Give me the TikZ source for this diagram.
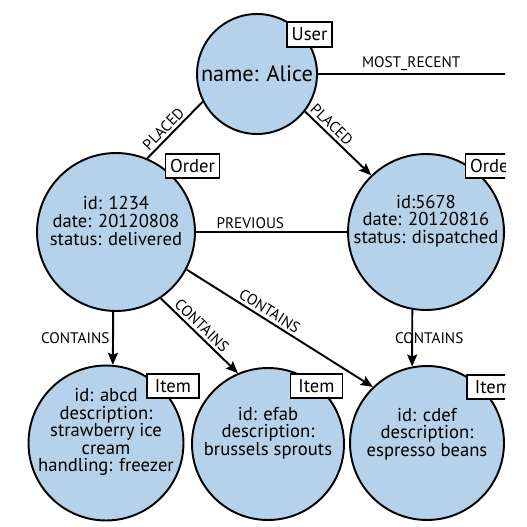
\documentclass[tikz,border=0pt]{standalone}
\usepackage{fontspec}
\setmainfont{PT Sans}
\usepackage{tikz}
\definecolor{nodeblue}{RGB}{182, 210, 235}
\usetikzlibrary{arrows.meta, positioning}

\begin{document}
\begin{tikzpicture}[
    x=0.02cm, y=-0.02cm,
    entity/.style={circle, draw=black, fill=nodeblue, line width=1.1pt, inner sep=0pt},
    body/.style={align=center, inner sep=0pt, font=\fontsize{10.6}{10}\selectfont},
    tag/.style={rectangle, draw=black, fill=white, line width=0.9pt, minimum width=0.9cm, minimum height=0.49cm, inner xsep=2.5pt, inner ysep=1pt, font=\fontsize{10.6}{10}\selectfont},
    rel/.style={line width=1.1pt},
    arrow/.style={rel, -{Stealth[length=0.24cm, width=0.2cm, inset=0.04cm]}},
    lbl/.style={font=\fontsize{8.7}{10}\selectfont, inner sep=1.5pt}
]
    \useasboundingbox (0,0) rectangle (527,527);
    \clip (0,0) rectangle (505,527);

    % circles
    \node[entity, minimum size=2.4cm] (user) at (257,74) {};
    \node[entity, minimum size=3.16cm] (order1) at (116,232) {};
    \node[entity, minimum size=3.12cm] (order2) at (426,232) {};
    \node[entity, minimum size=3.1cm] (item1) at (106,443) {};
    \node[entity, minimum size=3.04cm] (item2) at (268,444) {};
    \node[entity, minimum size=3.08cm] (item3) at (427,443) {};

    % properties
    \node[body, font=\fontsize{12.7}{14}\selectfont] (userText) at (user) {name: Alice};
    \node[body, yshift=0.22cm] (order1Text) at (order1) {id: 1234\\date: 20120808\\status: delivered};
    \node[body, yshift=0.22cm] (order2Text) at (order2) {id:5678\\date: 20120816\\status: dispatched};
    \node[body, yshift=0.22cm] (item1Text) at (item1) {id: abcd\\description:\\strawberry ice\\cream\\handling: freezer};
    \node[body, yshift=0.22cm] (item2Text) at (item2) {id: efab\\description:\\brussels sprouts};
    \node[body, yshift=0.18cm] (item3Text) at (item3) {id: cdef\\description:\\espresso beans};

    % relationships
    \coordinate (recentEnd) at (540,74);
    \coordinate (order2Out) at (540,232);
    \draw[rel] (user.east) -- node[lbl, above, pos=0.42] (lblRecent) {MOST\_RECENT} (recentEnd);
    \draw[rel] (order2.east) -- (order2Out);
    \draw[rel] (order1.67) -- node[lbl, sloped, above, pos=0.41] (lblPlacedA) {PLACED} (user.207);
    \draw[arrow] (user.322) -- node[lbl, sloped, above, pos=0.31] (lblPlacedB) {PLACED} (order2.134);
    \draw[rel] (order1.east) -- node[lbl, above, pos=0.36] (lblPrevious) {PREVIOUS} (order2.west);
    \draw[arrow] (order1.268) -- node[lbl, left] (lblContainsA) {CONTAINS} (item1.85);
    \draw[arrow] (order1.304) -- node[lbl, sloped, above, pos=0.45] (lblContainsB) {CONTAINS} (item2.113);
    \draw[arrow] (order1.332) -- node[lbl, sloped, above, pos=0.42] (lblContainsC) {CONTAINS} (item3.134);
    \draw[arrow] (order2.260) -- node[lbl, xshift=0.34cm] (lblContainsD) {CONTAINS} (item3.101);

    % labels
    \node[tag] (userTag) at (309.5,34.5) {User};
    \node[tag, minimum width=1.02cm] (order1Tag) at (192.5,166) {Order};
    \node[tag, minimum width=1.02cm] (order2Tag) at (492.5,166) {Order};
    \node[tag, minimum width=1.04cm] (item1Tag) at (173,386) {Item};
    \node[tag, minimum width=1.04cm] (item2Tag) at (316.5,386) {Item};
    \node[tag, minimum width=1.04cm] (item3Tag) at (493,387) {Item};
\end{tikzpicture}
\end{document}
